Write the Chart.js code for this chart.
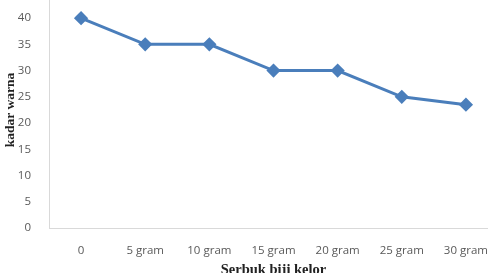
<!DOCTYPE html>
<html>
<head>
<meta charset="utf-8">
<script src="https://cdn.jsdelivr.net/npm/chart.js@4.4.1/dist/chart.umd.min.js"></script>
<style>
  html, body { margin: 0; padding: 0; background: #fff; overflow: hidden; }
  .wrap { position: relative; width: 488px; height: 273px; overflow: hidden; }
  .wrap canvas { position: absolute; left: 0; top: -25px; }
</style>
</head>
<body>
<div class="wrap">
  <canvas id="colorChart" width="520" height="304"></canvas>
</div>
<script>
const categories = ['0', '5 gram', '10 gram', '15 gram', '20 gram', '25 gram', '30 gram'];
const kadarWarna = [40, 35, 35, 30, 30, 25, 23.5];
const yTicks = [0, 5, 10, 15, 20, 25, 30, 35, 40, 45];

const ctx = document.getElementById('colorChart').getContext('2d');

new Chart(ctx, {
  type: 'line',
  data: {
    labels: categories,
    datasets: [{
      label: 'kadar warna',
      data: kadarWarna,
      borderColor: '#4a7ebb',
      backgroundColor: '#4a7ebb',
      borderWidth: 3,
      pointStyle: 'rectRot',
      pointRadius: 5,
      pointHoverRadius: 5,
      tension: 0,
      fill: false,
    }],
  },
  options: {
    responsive: false,
    animation: false,
    layout: {
      padding: { top: 16, right: 22, left: 0, bottom: 0 },
    },
    plugins: {
      legend: { display: false },
      tooltip: { enabled: false },
    },
    scales: {
      x: {
        offset: true,
        grid: { display: false },
        border: { display: true, color: '#d9d9d9', width: 1 },
        ticks: {
          color: '#595959',
          font: { family: 'Open Sans', size: 11.5 },
          padding: 8,
          maxRotation: 0,
          autoSkip: false,
        },
        title: {
          display: true,
          text: 'Serbuk biji kelor',
          color: '#222',
          font: { family: 'Liberation Serif', size: 14.5, weight: 'bold' },
          padding: { top: 6, bottom: 0 },
        },
        afterFit: (scale) => { scale.height = 51; },
      },
      y: {
        min: 0,
        max: 45,
        afterBuildTicks: (scale) => { scale.ticks = yTicks.map(v => ({ value: v })); },
        grid: { display: false },
        border: { display: true, color: '#d9d9d9', width: 1 },
        ticks: {
          color: '#595959',
          font: { family: 'Open Sans', size: 11.5 },
          padding: 10,
        },
        title: {
          display: true,
          text: 'kadar warna',
          color: '#222',
          font: { family: 'Liberation Serif', size: 13.5, weight: 'bold' },
          padding: { top: 2, bottom: 0 },
        },
        afterFit: (scale) => { scale.width = 49; },
      },
    },
  },
});
</script>
</body>
</html>
